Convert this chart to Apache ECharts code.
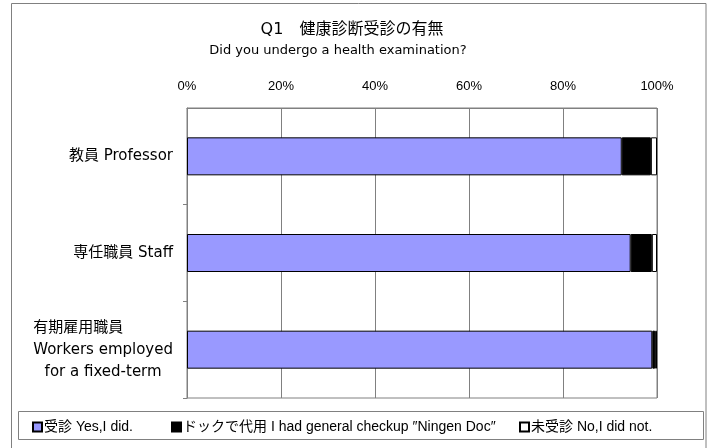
<!DOCTYPE html>
<html>
<head>
<meta charset="utf-8">
<script src="https://cdn.jsdelivr.net/npm/echarts@6/dist/echarts.min.js"></script>
<style>html,body{margin:0;padding:0;background:#fff;}#c{width:712px;height:448px;}</style>
</head>
<body>
<div id="c"></div>
<script>
const categories = ['教員 Professor', '専任職員 Staff', '有期雇用職員\nWorkers employed\nfor a fixed-term'];
const seriesNames = ['受診 Yes,I did.', 'ドックで代用 I had general checkup ″Ningen Doc″', '未受診 No,I did not.'];
const yesValues = [92.5, 94.4, 99.0];
const dockValues = [6.2, 4.5, 0.6];
const noValues = [1.3, 1.1, 0.4];
const tickValues = [0, 20, 40, 60, 80, 100];
const titleText = 'Q1　健康診断受診の有無';
const subtitleText = 'Did you undergo a health examination?';

const FONT_W = "'DejaVu Sans', 'Noto Sans CJK JP', sans-serif";
const FONT_N = "'Liberation Sans', 'Noto Sans CJK JP', sans-serif";
const chart = echarts.init(document.getElementById('c'), null, {renderer: 'canvas'});

function catLabel(value) {
  if (value.indexOf('\n') >= 0) {
    const lines = value.split('\n');
    return '{l|' + lines[0] + '}\n{c|' + lines[1] + '}\n{c|' + lines[2] + '}';
  }
  return value;
}

const colors = ['#9999FF', '#000000', '#FFFFFF'];
const values = [yesValues, dockValues, noValues];

const option = {
  animation: false,
  backgroundColor: '#fff',
  graphic: [
    {type: 'rect', shape: {x: 11.5, y: 3.5, width: 694.5, height: 470}, style: {fill: 'none', stroke: '#808080', lineWidth: 1}, silent: true, z: -1},
    {type: 'rect', shape: {x: 18.5, y: 411.5, width: 685, height: 28}, style: {fill: 'none', stroke: '#808080', lineWidth: 1}, silent: true},
    {type: 'text', x: 352, y: 30, style: {text: titleText, textAlign: 'center', textVerticalAlign: 'middle', font: '16px ' + FONT_W, fill: '#000'}},
    {type: 'text', x: 338, y: 51, style: {text: subtitleText, textAlign: 'center', textVerticalAlign: 'middle', font: '13px ' + FONT_W, fill: '#000'}}
  ],
  legend: [
    {data: [seriesNames[0]], left: 32, top: 420},
    {data: [seriesNames[1]], left: 171, top: 420},
    {data: [seriesNames[2]], left: 519, top: 420}
  ].map(l => Object.assign(l, {
    itemWidth: 9, itemHeight: 9, icon: 'rect', padding: 0, itemGap: 0,
    textStyle: {fontFamily: FONT_N, fontSize: 14, color: '#000', padding: [0, 0, 0, -3]}
  })),
  grid: {left: 187, right: 55, top: 108, bottom: 50, show: true, borderColor: '#808080', borderWidth: 1, containLabel: false},
  xAxis: {
    type: 'value', position: 'top', min: 0, max: 100, interval: 20,
    axisLine: {show: true, lineStyle: {color: '#808080'}},
    axisTick: {show: false},
    splitLine: {show: true, lineStyle: {color: '#808080', width: 1}},
    axisLabel: {formatter: v => v + '%', fontFamily: FONT_N, fontSize: 13, color: '#000', margin: 15}
  },
  yAxis: {
    type: 'category', inverse: true, data: categories,
    axisLine: {show: true, lineStyle: {color: '#808080'}},
    axisTick: {show: true, length: 4, interval: (i) => i !== 0, lineStyle: {color: '#808080'}},
    splitLine: {show: false},
    axisLabel: {
      fontFamily: FONT_W, fontSize: 15, color: '#000', margin: 14,
      formatter: catLabel,
      rich: {
        l: {align: 'left', fontFamily: FONT_W, fontSize: 15, lineHeight: 22, color: '#000'},
        c: {align: 'center', fontFamily: FONT_W, fontSize: 15, lineHeight: 22, color: '#000'}
      }
    }
  },
  series: seriesNames.map((name, i) => ({
    name: name, type: 'bar', stack: 'total', barWidth: 38,
    data: values[i],
    itemStyle: {color: colors[i], borderColor: '#000', borderWidth: 1}
  }))
};
chart.setOption(option);
</script>
</body>
</html>
